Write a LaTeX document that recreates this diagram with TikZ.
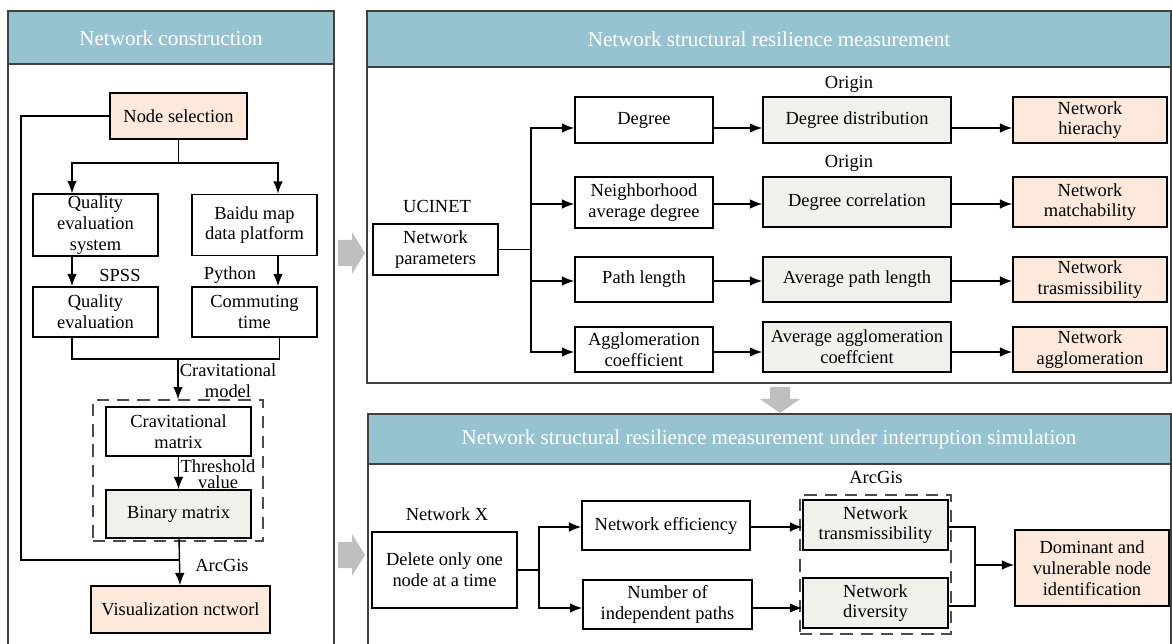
\documentclass[tikz,border=0pt]{standalone}
\usepackage{fontspec}
\setmainfont{Liberation Serif}
\usepackage{tikz}
\usetikzlibrary{positioning,calc,arrows.meta}
\definecolor{headblue}{RGB}{151,195,208}
\definecolor{peach}{RGB}{252,233,220}
\definecolor{pale}{RGB}{239,242,234}
\tikzstyle{block} = [draw, rectangle, line width=0.9pt, align=center, inner sep=1pt]
\tikzstyle{data} = [align=center, inner sep=1pt]
\tikzstyle{to} = [-{Latex[length=7pt,width=5.5pt]}, line width=0.8pt]
\tikzstyle{link} = [line width=0.8pt]
\tikzstyle{bpk} = [fill=peach]
\tikzstyle{bgr} = [fill=pale]
\tikzstyle{panel} = [draw=black!75, line width=0.9pt]
\tikzstyle{head} = [fill=headblue, draw=black!75, line width=0.9pt]
\tikzstyle{title} = [text=white, font=\fontsize{12}{14}\selectfont]
\tikzstyle{grp} = [draw=black!70, dash pattern=on 7pt off 4.5pt, line width=0.8pt, inner sep=0pt]
\tikzstyle{fat} = [fill=black!25, draw=none]

\begin{document}
\begin{tikzpicture}[x=0.02cm, y=-0.02cm, font=\fontsize{10.5}{11.8}\selectfont]
	\useasboundingbox (0,0) rectangle (1172,644);
	\clip (0,0) rectangle (1172,644);
	\fill[white] (0,0) rectangle (1172,644);
	% panels
	\draw [panel] (8,11) rectangle (334,660);
	\draw [head] (8,11) rectangle (334,64);
	\node (t1) at (171,38) [title] {Network construction};
	\draw [panel] (367,11) rectangle (1171,383);
	\draw [head] (367,11) rectangle (1171,67);
	\node (t2) at (769,39) [title] {Network structural resilience measurement};
	\draw [panel] (368,414) rectangle (1171,660);
	\draw [head] (368,414) rectangle (1171,464);
	\node (t3) at (769,439) [title] {Network structural resilience measurement under interruption simulation};
	%
	\draw [fat] (338,240) -- (352,240) -- (352,232) -- (365,253) -- (352,274) -- (352,266) -- (338,266) -- cycle;
	\draw [fat] (338,542) -- (352,542) -- (352,534) -- (365,555) -- (352,576) -- (352,568) -- (338,568) -- cycle;
	\draw [fat] (770,387) -- (790,387) -- (790,399) -- (800,399) -- (780,413) -- (760,399) -- (770,399) -- cycle;
	%
	% network construction
	\node (nsel) at (178.5,116) [block,bpk,minimum width=2.74cm,minimum height=0.92cm] {Node selection};
	\node (qes) at (95.5,225) [block,minimum width=2.5cm,minimum height=1.22cm] {Quality\\evaluation\\system};
	\node (baidu) at (254.5,225) [block,minimum width=2.5cm,minimum height=1.22cm] {Baidu map\\data platform};
	\node (qe) at (95.5,312) [block,minimum width=2.5cm,minimum height=1.0cm] {Quality\\evaluation};
	\node (ct) at (254.5,312) [block,minimum width=2.5cm,minimum height=1.0cm] {Commuting\\time};
	\node (gbox) at (178,470.5) [grp,minimum width=3.4cm,minimum height=2.82cm] {};
	\node (cmat) at (178.5,431.5) [block,minimum width=2.9cm,minimum height=0.98cm] {Cravitational\\matrix};
	\node (bmat) at (178.5,514) [block,bgr,minimum width=2.9cm,minimum height=0.96cm] {Binary matrix};
	\node (vis) at (180.5,609.5) [block,bpk,minimum width=3.58cm,minimum height=0.94cm] {Visualization nctworl};
	%
	\node (spss) at (120,275) [data] {SPSS};
	\node (py) at (230,275) [data] {Python};
	\node (gm) at (228,381) [data] {Cravitational\\model};
	\node (thr) at (218,474) [data] {Threshold\\[-2.5pt]value};
	\node (arc1) at (222,565) [data] {ArcGis};
	%
	\coordinate (sp1) at (178.5,163);
	\coordinate (m1) at (178,359);
	\coordinate (lp) at (21,560);
	\draw [link] (nsel.south) -- (sp1);
	\draw [to] (sp1) -| ([xshift=-0.47cm]qes.north);
	\draw [to] (sp1) -| ([xshift=0.47cm]baidu.north);
	\draw [to] ([xshift=-0.47cm]qes.south) -- ([xshift=-0.47cm]qe.north);
	\draw [to] ([xshift=0.47cm]baidu.south) -- ([xshift=0.47cm]ct.north);
	\draw [link] ([xshift=-0.47cm]qe.south) |- (m1) -| ([xshift=0.5cm]ct.south);
	\draw [to] (m1) -- (gbox.north);
	\draw [to] (cmat) -- (bmat);
	\draw [to] (bmat) -- (vis);
	\draw [link] (nsel.west) -| (lp) -- (lp -| bmat.south);
	%
	% resilience measurement
	\node (np) at (435.5,249.5) [block,minimum width=2.5cm,minimum height=1.02cm] {Network\\parameters};
	\node (uci) at (437,206) [data] {UCINET};
	\node (deg) at (644,120) [block,minimum width=2.76cm,minimum height=0.92cm] {Degree};
	\node (nad) at (644,202.5) [block,minimum width=2.76cm,minimum height=1.02cm] {Neighborhood\\average degree};
	\node (pl) at (644,279.5) [block,minimum width=2.76cm,minimum height=0.9cm] {Path length};
	\node (ac) at (644,349.5) [block,minimum width=2.76cm,minimum height=0.9cm] {Agglomeration\\coefficient};
	%
	\node (ddist) at (857,120) [block,bgr,minimum width=3.76cm,minimum height=0.92cm] {Degree distribution};
	\node (dcor) at (857,202) [block,bgr,minimum width=3.76cm,minimum height=1.0cm] {Degree correlation};
	\node (apl) at (857,279.5) [block,bgr,minimum width=3.76cm,minimum height=0.9cm] {Average path length};
	\node (aac) at (857,347) [block,bgr,minimum width=3.76cm,minimum height=1.0cm] {Average agglomeration\\coeffcient};
	\node (or1) at (849,84) [data] {Origin};
	\node (or2) at (849,163) [data] {Origin};
	%
	\node (nh) at (1090,120) [block,bpk,minimum width=3.08cm,minimum height=0.92cm] {Network\\hierachy};
	\node (nm) at (1090,202) [block,bpk,minimum width=3.08cm,minimum height=1.0cm] {Network\\matchability};
	\node (ntm) at (1090,279.5) [block,bpk,minimum width=3.08cm,minimum height=0.9cm] {Network\\trasmissibility};
	\node (na) at (1090,349.5) [block,bpk,minimum width=3.08cm,minimum height=0.9cm] {Network\\agglomeration};
	%
	\coordinate (br1) at (531,249.5);
	\draw [link] (np.east) -- (br1);
	\draw [to] (br1) |- ([yshift=-0.16cm]deg.west);
	\draw [to] (br1) |- ([yshift=-0.03cm]nad.west);
	\draw [to] (br1) |- ([yshift=-0.03cm]pl.west);
	\draw [to] (br1) |- ([yshift=-0.05cm]ac.west);
	%
	\draw [to] ([yshift=-0.16cm]deg.east) -- ([yshift=-0.16cm]deg.east -| ddist.west);
	\draw [to] ([yshift=-0.03cm]nad.east) -- ([yshift=-0.03cm]nad.east -| dcor.west);
	\draw [to] ([yshift=-0.03cm]pl.east) -- ([yshift=-0.03cm]pl.east -| apl.west);
	\draw [to] ([yshift=-0.05cm]ac.east) -- ([yshift=-0.05cm]ac.east -| aac.west);
	%
	\draw [to] ([yshift=-0.16cm]ddist.east) -- ([yshift=-0.16cm]ddist.east -| nh.west);
	\draw [to] ([yshift=-0.04cm]dcor.east) -- ([yshift=-0.04cm]dcor.east -| nm.west);
	\draw [to] ([yshift=-0.03cm]apl.east) -- ([yshift=-0.03cm]apl.east -| ntm.west);
	\draw [to] ([yshift=-0.1cm]aac.east) -- ([yshift=-0.1cm]aac.east -| na.west);
	%
	% interruption simulation
	\node (del) at (444.5,570) [block,minimum width=2.9cm,minimum height=1.52cm] {Delete only one\\node at a time};
	\node (netx) at (447,514) [data] {Network X};
	\node (neff) at (666,525.5) [block,minimum width=3.36cm,minimum height=0.98cm] {Network efficiency};
	\node (nip) at (667.5,604.5) [block,minimum width=3.38cm,minimum height=0.98cm] {Number of\\independent paths};
	\node (gbox2) at (875.5,564.5) [grp,minimum width=3.02cm,minimum height=2.78cm] {};
	\node (ntr) at (875.5,525) [block,bgr,minimum width=2.9cm,minimum height=1.0cm] {Network\\transmissibility};
	\node (ndiv) at (875.5,603) [block,bgr,minimum width=2.9cm,minimum height=1.0cm] {Network\\diversity};
	\node (arc2) at (876,477) [data] {ArcGis};
	\node (dom) at (1092,568) [block,bpk,minimum width=3.08cm,minimum height=1.52cm] {Dominant and\\vulnerable node\\identification};
	%
	\coordinate (br2) at (539,570);
	\coordinate (m2) at (975,565);
	\draw [link] (del.east) -- (br2);
	\draw [to] (br2) |- ([yshift=-0.03cm]neff.west);
	\draw [to] (br2) |- ([yshift=-0.07cm]nip.west);
	\draw [to] ([yshift=-0.03cm]neff.east) -- ([yshift=-0.03cm]neff.east -| ntr.west);
	\draw [to] ([yshift=-0.07cm]nip.east) -- ([yshift=-0.07cm]nip.east -| ndiv.west);
	\draw [link] ([yshift=-0.04cm]ntr.east) -| (m2) |- ([yshift=-0.06cm]ndiv.east);
	\draw [to] (m2) -- (m2 -| dom.west);
\end{tikzpicture}
\end{document}
